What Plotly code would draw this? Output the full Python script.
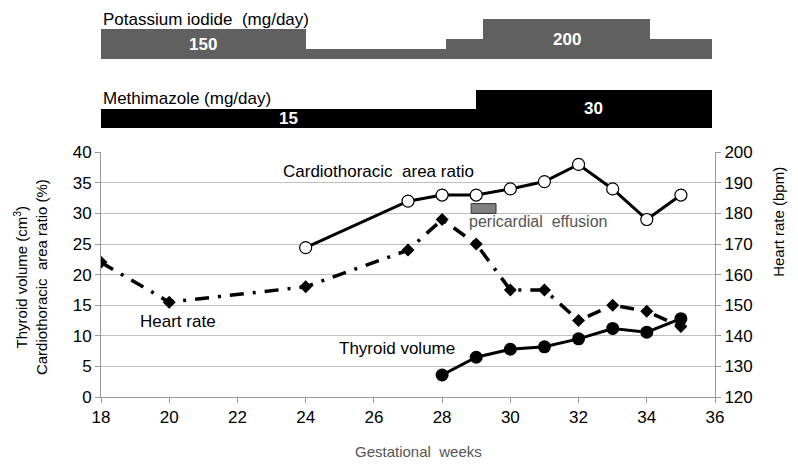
import plotly.graph_objects as go

# gestational weeks and measurements
weeks_hr = [18, 20, 24, 27, 28, 29, 30, 31, 32, 33, 34, 35]
heart_rate = [164, 151, 156, 168, 178, 170, 155, 155, 145, 150, 148, 143]

weeks_ctar = [24, 27, 28, 29, 30, 31, 32, 33, 34, 35]
ctar = [24.4, 32, 33, 33, 34, 35.2, 38, 34, 29, 33]

weeks_tv = [28, 29, 30, 31, 32, 33, 34, 35]
thyroid_volume = [3.6, 6.5, 7.8, 8.2, 9.5, 11.2, 10.6, 12.8]

# drug doses (start week, end week, mg/day)
ki_start = [18, 24, 28.1, 29.2, 34.1]
ki_end = [24, 28.1, 29.2, 34.1, 35.9]
ki_dose = [150, 50, 100, 200, 100]
ki_label = ["150", "", "", "200", ""]

mmi_start = [18, 29]
mmi_end = [29, 35.9]
mmi_dose = [15, 30]
mmi_label = ["15", "30"]

effusion = (28.85, 29.58)

FONT = "Liberation Sans, Arial, sans-serif"
GRID = "#bfbfbf"
AXIS = "#999999"


def bar_trace(starts, ends, doses, color, yaxis):
    centers = [(s + e) / 2 for s, e in zip(starts, ends)]
    widths = [e - s for s, e in zip(starts, ends)]
    return go.Bar(x=centers, y=doses, width=widths, marker=dict(color=color, line=dict(width=0)),
                  xaxis="x", yaxis=yaxis, hoverinfo="skip")


fig = go.Figure()
fig.add_trace(bar_trace(ki_start, ki_end, ki_dose, "#606060", "y4"))
fig.add_trace(bar_trace(mmi_start, mmi_end, mmi_dose, "#000000", "y5"))

fig.add_trace(go.Scatter(x=weeks_hr, y=heart_rate, yaxis="y3", mode="lines+markers",
                         line=dict(color="black", width=3.5, dash="14px,9px,3px,9px"),
                         marker=dict(symbol="diamond", size=10, color="black")))
fig.add_trace(go.Scatter(x=weeks_ctar, y=ctar, mode="lines+markers",
                         line=dict(color="black", width=3),
                         marker=dict(symbol="circle", size=12, color="white",
                                     line=dict(color="black", width=1.2))))
fig.add_trace(go.Scatter(x=weeks_tv, y=thyroid_volume, mode="lines+markers",
                         line=dict(color="black", width=3),
                         marker=dict(symbol="circle", size=13, color="black")))

fig.add_shape(type="rect", xref="x", yref="y", x0=effusion[0], x1=effusion[1], y0=30.0, y1=31.6,
              fillcolor="#808080", line=dict(color="#333333", width=1))

annotations = []
bold_white = dict(color="white", size=17, family=FONT, weight="bold")
for s, e, d, t in zip(ki_start, ki_end, ki_dose, ki_label):
    if t:
        annotations.append(dict(x=(s + e) / 2, y=d / 2, xref="x", yref="y4", text=t,
                                showarrow=False, font=bold_white))
for s, e, d, t in zip(mmi_start, mmi_end, mmi_dose, mmi_label):
    annotations.append(dict(x=(s + e) / 2, y=d / 2, xref="x", yref="y5", text=t,
                            showarrow=False, font=bold_white))

text_font = dict(size=17, family=FONT, color="black")
annotations += [
    dict(x=18, y=0.9717, xref="x", yref="paper", xanchor="left", yanchor="middle",
         text="Potassium iodide  (mg/day)", showarrow=False, font=text_font),
    dict(x=18, y=0.7663, xref="x", yref="paper", xanchor="left", yanchor="middle",
         text="Methimazole (mg/day)", showarrow=False, font=text_font),
    dict(x=23.28, y=36.8, xref="x", yref="y", xanchor="left", text="Cardiothoracic  area ratio",
         showarrow=False, font=text_font),
    dict(x=19.09, y=12.3, xref="x", yref="y", xanchor="left", text="Heart rate",
         showarrow=False, font=text_font),
    dict(x=24.91, y=7.9, xref="x", yref="y", xanchor="left", text="Thyroid volume",
         showarrow=False, font=text_font),
    dict(x=28.73, y=28.6, xref="x", yref="y", xanchor="left", text="pericardial  effusion",
         showarrow=False, font=dict(size=16, family=FONT, color="#555555")),
    dict(x=27.3, y=-0.1405, xref="x", yref="paper", xanchor="center", yanchor="middle",
         text="Gestational  weeks", showarrow=False, font=dict(size=15, family=FONT, color="#555555")),
    dict(x=0, y=0.3082, xref="paper", yref="paper", xanchor="center", yanchor="middle",
         xshift=-71, textangle=-90,
         text="Thyroid volume (cm<sup>3</sup>)<br>Cardiothoracic  area ratio (%)",
         showarrow=False, font=dict(size=15, family=FONT, color="black")),
    dict(x=1, y=0.4502, xref="paper", yref="paper", xanchor="center", yanchor="middle",
         xshift=64, textangle=-90, text="Heart rate (bpm)", showarrow=False,
         font=dict(size=15, family=FONT, color="black")),
]

# page body adds 8px on top/left, margins compensate for it
fig.update_layout(
    width=798, height=467,
    margin=dict(l=93, r=91, t=0, b=78),
    paper_bgcolor="white", plot_bgcolor="white",
    showlegend=False, bargap=0,
    font=dict(family=FONT, size=17, color="black"),
    xaxis=dict(range=[18, 36], dtick=2, anchor="y", showgrid=False, zeroline=False, automargin=False,
               showline=True, linecolor=AXIS, ticks="outside", ticklen=5, tickcolor=AXIS),
    yaxis=dict(domain=[0, 0.6293], range=[0, 40], dtick=5, showgrid=True, gridcolor=GRID,
               zeroline=False, showline=True, linecolor=AXIS, ticks="outside", ticklen=5,
               tickcolor=AXIS, automargin=False),
    yaxis3=dict(overlaying="y", side="right", range=[120, 200], dtick=10, showgrid=False,
                zeroline=False, showline=True, linecolor=AXIS, ticks="outside", ticklen=5,
                tickcolor=AXIS, anchor="x", automargin=False),
    yaxis4=dict(domain=[0.8682, 0.9967], range=[0, 250], visible=False),
    yaxis5=dict(domain=[0.6918, 0.822], range=[0, 40], visible=False),
    annotations=annotations,
)

fig.write_html("out.html")
